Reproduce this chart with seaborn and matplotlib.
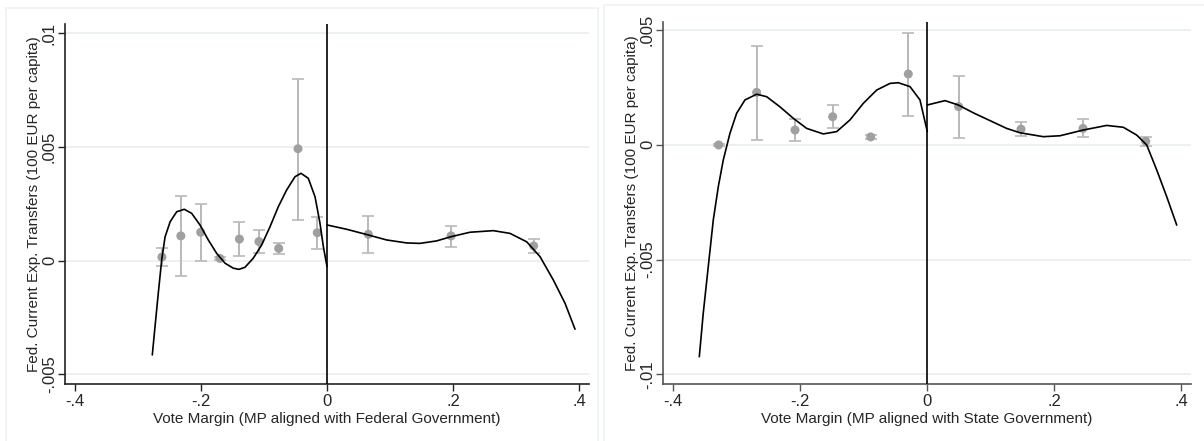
"""Binned RD plots: federal transfers vs vote margin (federal / state alignment)."""

import numpy as np
import pandas as pd
import matplotlib
matplotlib.use("Agg")
import matplotlib.pyplot as plt
from matplotlib.patches import Rectangle
import seaborn as sns

# ---- left panel: MP aligned with Federal Government ----
fed_bin_x = [-0.262, -0.232, -0.2005, -0.170, -0.139, -0.108, -0.0767, -0.046,
             -0.0154, 0.0656, 0.197, 0.328]
fed_bin_y = [0.00016, 0.00109, 0.00125, 0.00010, 0.00095, 0.00084, 0.00054, 0.00492,
             0.00123, 0.00116, 0.00109, 0.00065]
fed_bin_lo = [-0.00022, -0.00066, 0.0, 0.00004, 0.00022, 0.00034, 0.00029, 0.0018,
              0.00053, 0.00032, 0.00062, 0.00032]
fed_bin_hi = [0.00054, 0.00284, 0.00249, 0.00016, 0.00169, 0.00134, 0.00078, 0.0080,
              0.00192, 0.00196, 0.00154, 0.00094]

fed_fit_left_x = [-0.2773, -0.273, -0.2678, -0.2624, -0.257, -0.249, -0.2386, -0.2265,
                  -0.2148, -0.2016, -0.1884, -0.1751, -0.1619, -0.1487, -0.1397, -0.1302,
                  -0.117, -0.1037, -0.0905, -0.0773, -0.064, -0.0508, -0.0413, -0.0297,
                  -0.019, -0.0111, -0.0058, 0.0]
fed_fit_left_y = [-0.00414, -0.0029, -0.00143, 0.00003, 0.00105, 0.00171, 0.00215, 0.00226,
                  0.00208, 0.00157, 0.00091, 0.00032, -0.00011, -0.00033, -0.00038, -0.00029,
                  0.00011, 0.00069, 0.00149, 0.00237, 0.00311, 0.00369, 0.00384, 0.00362,
                  0.00281, 0.00164, 0.00062, -0.00026]
fed_fit_right_x = [0.0, 0.0313, 0.0656, 0.0948, 0.1265, 0.1476, 0.1741, 0.1963, 0.227,
                   0.264, 0.2905, 0.317, 0.3381, 0.3593, 0.3778, 0.3937]
fed_fit_right_y = [0.00157, 0.00138, 0.00113, 0.00091, 0.00078, 0.00076, 0.00087, 0.00105,
                   0.00125, 0.00132, 0.0012, 0.00083, 0.00018, -0.00085, -0.00187, -0.00301]

# ---- right panel: MP aligned with State Government ----
state_bin_x = [-0.3285, -0.2687, -0.2083, -0.149, -0.0891, -0.0299, 0.0494, 0.1476,
               0.2452, 0.344]
state_bin_y = [-0.00001, 0.00228, 0.00064, 0.00122, 0.00034, 0.00308, 0.00166, 0.00068,
               0.00071, 0.00015]
state_bin_lo = [-0.00004, 0.00020, 0.00015, 0.00071, 0.00023, 0.00125, 0.00029, 0.00038,
                0.00034, -0.00004]
state_bin_hi = [0.00002, 0.00431, 0.00112, 0.00172, 0.00042, 0.00488, 0.00300, 0.00099,
                0.00112, 0.00034]

state_fit_left_x = [-0.359, -0.3528, -0.3449, -0.337, -0.3291, -0.3213, -0.3107, -0.3002,
                    -0.2871, -0.2687, -0.2529, -0.232, -0.211, -0.1899, -0.1638, -0.1427,
                    -0.1217, -0.1008, -0.0797, -0.0587, -0.0457, -0.0272, -0.0115, 0.0]
state_fit_left_y = [-0.00923, -0.00734, -0.00531, -0.00328, -0.00183, -0.00067, 0.0005,
                    0.00137, 0.00195, 0.0022, 0.00209, 0.00165, 0.00115, 0.00071, 0.00047,
                    0.00057, 0.00108, 0.0018, 0.00238, 0.00267, 0.0027, 0.00253, 0.00195,
                    0.00057]
state_fit_right_x = [0.0, 0.0279, 0.0488, 0.0724, 0.0987, 0.125, 0.146, 0.1827, 0.209,
                     0.2457, 0.2825, 0.3087, 0.3298, 0.3455, 0.3613, 0.377, 0.3928]
state_fit_right_y = [0.00173, 0.00192, 0.00173, 0.00139, 0.00105, 0.00071, 0.00052, 0.00035,
                     0.00039, 0.00064, 0.00084, 0.00076, 0.00042, -0.00001, -0.0011, -0.00226,
                     -0.0035]

x_ticks = [-0.4, -0.2, 0.0, 0.2, 0.4]
x_tick_labels = ["-.4", "-.2", "0", ".2", ".4"]
fed_y_ticks = [-0.005, 0.0, 0.005, 0.01]
fed_y_tick_labels = ["-.005", "0", ".005", ".01"]
state_y_ticks = [-0.01, -0.005, 0.0, 0.005]
state_y_tick_labels = ["-.01", "-.005", "0", ".005"]

y_label = "Fed. Current Exp. Transfers (100 EUR per capita)"

sns.set_style("white")
plt.rcParams["font.family"] = ["Liberation Sans", "DejaVu Sans"]

fig = plt.figure(figsize=(12.04, 4.41), dpi=100)

# light Stata-style graph region frames
fig.patches.append(Rectangle((6 / 1204, -0.05), 592 / 1204, 1.05 - 8 / 441,
                             transform=fig.transFigure, fill=False,
                             edgecolor="#edf2f2", lw=1.2))
fig.patches.append(Rectangle((604 / 1204, -0.05), 0.6, 1.05 - 5 / 441,
                             transform=fig.transFigure, fill=False,
                             edgecolor="#edf2f2", lw=1.2))

ax1 = fig.add_axes([65.3 / 1204, 57 / 441, 523.4 / 1204, 360 / 441])
ax2 = fig.add_axes([663.3 / 1204, 57 / 441, 527.4 / 1204, 362.3 / 441])


def draw_panel(ax, bx, by, blo, bhi, lx, ly, rx, ry, yticks, ylabels, xlim, ylim,
               xlabel, spine_color):
    for t in yticks:
        ax.axhline(t, color="#e6eeef", lw=1.1, zorder=0)
    by_arr = np.array(by)
    yerr = [by_arr - np.array(blo), np.array(bhi) - by_arr]
    ax.errorbar(bx, by, yerr=yerr, fmt="none", ecolor="#b9b9b9", elinewidth=1.4,
                capsize=4, capthick=1.2, zorder=2)
    pts = pd.DataFrame({"x": bx, "y": by})
    sns.scatterplot(data=pts, x="x", y="y", ax=ax, color="#a0a0a0", s=42,
                    edgecolor="none", zorder=3)
    left = pd.DataFrame({"x": lx, "y": ly})
    right = pd.DataFrame({"x": rx, "y": ry})
    for seg in (left, right):
        sns.lineplot(data=seg, x="x", y="y", ax=ax, color="black", lw=1.2, sort=False,
                     estimator=None, zorder=4, solid_joinstyle="round",
                     solid_capstyle="round")
    ax.axvline(0, color="black", lw=1.2, zorder=5)

    ax.set_xlim(*xlim)
    ax.set_ylim(*ylim)
    ax.set_xticks(x_ticks)
    ax.set_xticklabels(x_tick_labels)
    ax.set_yticks(yticks)
    ax.set_yticklabels(ylabels, rotation=90, va="center")
    ax.tick_params(axis="both", direction="out", length=5, width=1, color=spine_color,
                   labelsize=12, bottom=True, left=True)
    ax.tick_params(axis="y", pad=1)
    ax.tick_params(axis="x", pad=2)
    ax.set_xlabel(xlabel, fontsize=11, labelpad=2)
    ax.set_ylabel(y_label, fontsize=11, labelpad=1)
    for s in ["top", "right"]:
        ax.spines[s].set_visible(False)
    for s in ["left", "bottom"]:
        ax.spines[s].set_color(spine_color)
        ax.spines[s].set_linewidth(1.2)
    ax.patch.set_alpha(0)


draw_panel(ax1, fed_bin_x, fed_bin_y, fed_bin_lo, fed_bin_hi,
           fed_fit_left_x, fed_fit_left_y, fed_fit_right_x, fed_fit_right_y,
           fed_y_ticks, fed_y_tick_labels, (-0.4154, 0.4154), (-0.005418, 0.0104),
           "Vote Margin (MP aligned with Federal Government)", "#222222")
draw_panel(ax2, state_bin_x, state_bin_y, state_bin_lo, state_bin_hi,
           state_fit_left_x, state_fit_left_y, state_fit_right_x, state_fit_right_y,
           state_y_ticks, state_y_tick_labels, (-0.4157, 0.4148), (-0.01042, 0.005357),
           "Vote Margin (MP aligned with State Government)", "#555555")

fig.savefig("out.png", dpi=100, facecolor="white")
